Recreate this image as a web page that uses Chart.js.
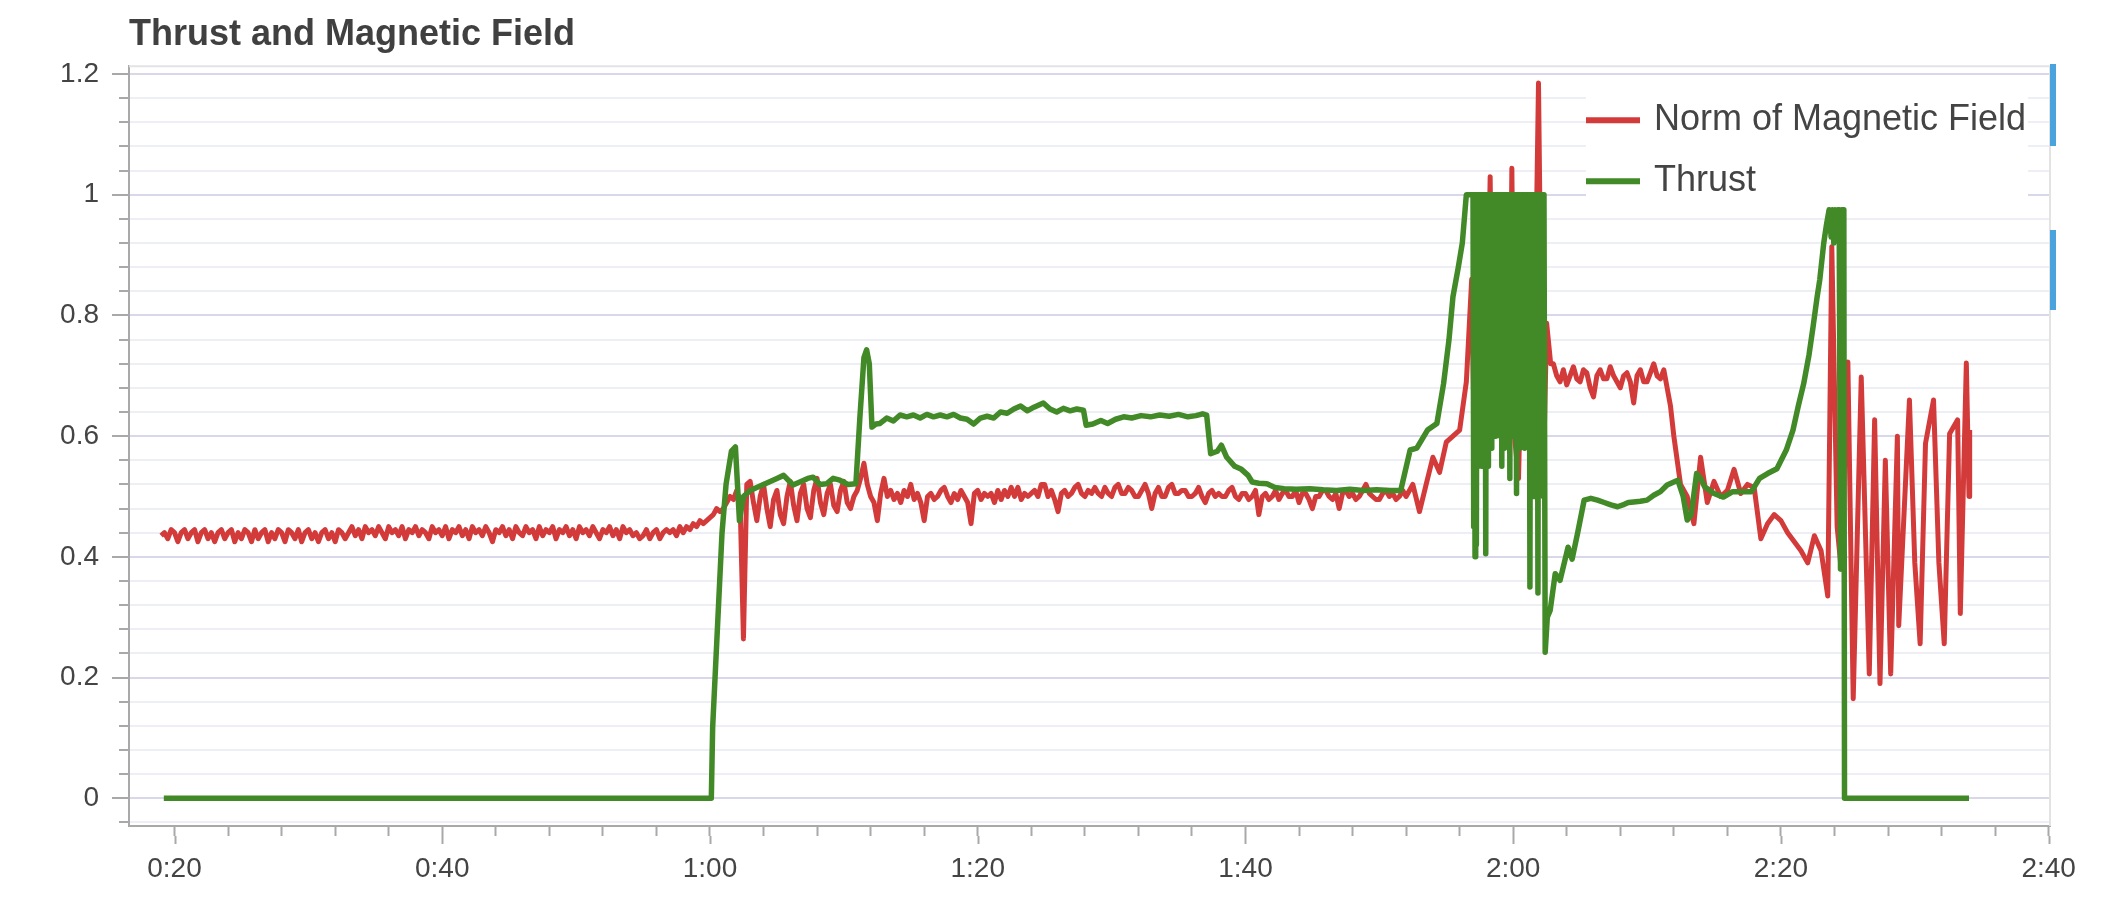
<!DOCTYPE html>
<html>
<head>
<meta charset="utf-8">
<title>Thrust and Magnetic Field</title>
<script src="https://cdn.jsdelivr.net/npm/chart.js@4.4.1/dist/chart.umd.min.js"></script>
<style>
  html, body { margin: 0; padding: 0; background: #fff; }
  #wrap { position: relative; width: 2126px; height: 918px; overflow: hidden; }
  .ui-strip { position: absolute; left: 2050px; width: 6px; background: #4aa3dc; }
</style>
</head>
<body>
<div id="wrap">
  <canvas id="myChart" width="2126" height="918"></canvas>
  <div class="ui-strip" style="top:64px;height:82px"></div>
  <div class="ui-strip" style="top:230px;height:80px"></div>
</div>
<script>
const chartTitle = "Thrust and Magnetic Field";
const seriesNames = ["Norm of Magnetic Field", "Thrust"];

// time in seconds
const magTimes = [
  19, 19.25, 19.5, 19.75, 20, 20.25, 20.5, 20.75,
  21, 21.25, 21.5, 21.75, 22, 22.25, 22.5, 22.75,
  23, 23.25, 23.5, 23.75, 24, 24.25, 24.5, 24.75,
  25, 25.25, 25.5, 25.75, 26, 26.25, 26.5, 26.75,
  27, 27.25, 27.5, 27.75, 28, 28.25, 28.5, 28.75,
  29, 29.25, 29.5, 29.75, 30, 30.25, 30.5, 30.75,
  31, 31.25, 31.5, 31.75, 32, 32.25, 32.5, 32.75,
  33, 33.25, 33.5, 33.75, 34, 34.25, 34.5, 34.75,
  35, 35.25, 35.5, 35.75, 36, 36.25, 36.5, 36.75,
  37, 37.25, 37.5, 37.75, 38, 38.25, 38.5, 38.75,
  39, 39.25, 39.5, 39.75, 40, 40.25, 40.5, 40.75,
  41, 41.25, 41.5, 41.75, 42, 42.25, 42.5, 42.75,
  43, 43.25, 43.5, 43.75, 44, 44.25, 44.5, 44.75,
  45, 45.25, 45.5, 45.75, 46, 46.25, 46.5, 46.75,
  47, 47.25, 47.5, 47.75, 48, 48.25, 48.5, 48.75,
  49, 49.25, 49.5, 49.75, 50, 50.25, 50.5, 50.75,
  51, 51.25, 51.5, 51.75, 52, 52.25, 52.5, 52.75,
  53, 53.25, 53.5, 53.75, 54, 54.25, 54.5, 54.75,
  55, 55.25, 55.5, 55.75, 56, 56.25, 56.5, 56.75,
  57, 57.25, 57.5, 57.75, 58, 58.25, 58.5, 58.75,
  59, 59.25, 59.5, 59.75, 60, 60.25, 60.5, 60.75,
  61, 61.25, 61.5, 61.75, 62, 62.25, 62.5, 62.75,
  63, 63.25, 63.5, 63.75, 64, 64.25, 64.5, 64.75,
  65, 65.25, 65.5, 65.75, 66, 66.25, 66.5, 66.75,
  67, 67.25, 67.5, 67.75, 68, 68.25, 68.5, 68.75,
  69, 69.25, 69.5, 69.75, 70, 70.25, 70.5, 70.75,
  71, 71.25, 71.5, 71.75, 72, 72.25, 72.5, 72.75,
  73, 73.25, 73.5, 73.75, 74, 74.25, 74.5, 74.75,
  75, 75.25, 75.5, 75.75, 76, 76.25, 76.5, 76.75,
  77, 77.25, 77.5, 77.75, 78, 78.25, 78.5, 78.75,
  79, 79.25, 79.5, 79.75, 80, 80.25, 80.5, 80.75,
  81, 81.25, 81.5, 81.75, 82, 82.25, 82.5, 82.75,
  83, 83.25, 83.5, 83.75, 84, 84.25, 84.5, 84.75,
  85, 85.25, 85.5, 85.75, 86, 86.25, 86.5, 86.75,
  87, 87.25, 87.5, 87.75, 88, 88.25, 88.5, 88.75,
  89, 89.25, 89.5, 89.75, 90, 90.25, 90.5, 90.75,
  91, 91.25, 91.5, 91.75, 92, 92.25, 92.5, 92.75,
  93, 93.25, 93.5, 93.75, 94, 94.25, 94.5, 94.75,
  95, 95.25, 95.5, 95.75, 96, 96.25, 96.5, 96.75,
  97, 97.25, 97.5, 97.75, 98, 98.25, 98.5, 98.75,
  99, 99.25, 99.5, 99.75, 100, 100.25, 100.5, 100.75,
  101, 101.25, 101.5, 101.75, 102, 102.25, 102.5, 102.75,
  103, 103.25, 103.5, 103.75, 104, 104.25, 104.5, 104.75,
  105, 105.25, 105.5, 105.75, 106, 106.25, 106.5, 106.75,
  107, 107.25, 107.5, 107.75, 108, 108.25, 108.5, 108.75,
  109, 109.25, 109.5, 109.75, 110, 110.25, 110.5, 110.75,
  111, 111.25, 111.5, 111.75, 112, 112.5, 113, 113.5,
  114, 114.5, 115, 115.5, 116, 116.5, 116.9, 117.1, 117.4, 117.7,
  118, 118.28, 118.45, 118.8, 119.1, 119.4, 119.7, 119.9, 120.1, 120.4,
  120.6, 120.9, 121.2, 121.5, 121.89, 122.1, 122.3, 122.5, 122.8,
  123, 123.25, 123.5, 123.75, 124, 124.25, 124.5, 124.75,
  125, 125.25, 125.5, 125.75, 126, 126.25, 126.5, 126.75,
  127, 127.25, 127.5, 127.75, 128, 128.25, 128.5, 128.75,
  129, 129.25, 129.5, 129.75, 130, 130.25, 130.5, 130.75,
  131, 131.25, 131.5, 131.75, 132, 132.5, 133,
  133.5, 134, 134.5, 135, 135.5, 136, 136.5, 137, 137.5, 138,
  138.5, 139, 139.5, 140, 140.5, 141, 141.5, 142, 142.5, 143,
  143.5, 143.8, 144.2, 144.5, 145, 145.4, 146, 146.6, 147, 147.4,
  147.8, 148.2, 148.7, 148.8, 149.6, 150, 150.4, 150.8, 151.4, 151.8,
  152.2, 152.6, 153.2, 153.4, 153.85, 154.05, 154.1
];
const magValues = [
  0.435, 0.44, 0.43, 0.445, 0.44, 0.425, 0.44, 0.445,
  0.43, 0.44, 0.445, 0.425, 0.44, 0.445, 0.43, 0.44,
  0.425, 0.44, 0.445, 0.43, 0.44, 0.445, 0.425, 0.44,
  0.43, 0.445, 0.44, 0.425, 0.445, 0.43, 0.44, 0.445,
  0.425, 0.44, 0.43, 0.445, 0.44, 0.425, 0.445, 0.44,
  0.43, 0.445, 0.425, 0.44, 0.445, 0.43, 0.44, 0.425,
  0.44, 0.445, 0.43, 0.44, 0.425, 0.445, 0.44, 0.43,
  0.44, 0.45, 0.435, 0.445, 0.43, 0.45, 0.44, 0.445,
  0.435, 0.45, 0.44, 0.43, 0.45, 0.44, 0.445, 0.435,
  0.45, 0.43, 0.445, 0.44, 0.45, 0.435, 0.445, 0.44,
  0.43, 0.45, 0.44, 0.445, 0.435, 0.45, 0.43, 0.445,
  0.44, 0.45, 0.435, 0.445, 0.43, 0.45, 0.44, 0.445,
  0.435, 0.45, 0.44, 0.425, 0.445, 0.44, 0.45, 0.435,
  0.445, 0.43, 0.45, 0.44, 0.435, 0.45, 0.44, 0.445,
  0.43, 0.45, 0.435, 0.445, 0.44, 0.45, 0.43, 0.445,
  0.44, 0.45, 0.435, 0.445, 0.43, 0.45, 0.44, 0.445,
  0.435, 0.45, 0.44, 0.43, 0.445, 0.44, 0.45, 0.435,
  0.445, 0.43, 0.45, 0.44, 0.445, 0.435, 0.44, 0.43,
  0.435, 0.445, 0.43, 0.44, 0.445, 0.43, 0.44, 0.445,
  0.44, 0.445, 0.435, 0.45, 0.44, 0.45, 0.445, 0.455,
  0.45, 0.46, 0.455, 0.46, 0.465, 0.47, 0.48, 0.475,
  0.48, 0.49, 0.5, 0.495, 0.51, 0.49, 0.264, 0.52,
  0.525, 0.49, 0.46, 0.5, 0.52, 0.48, 0.45, 0.495,
  0.51, 0.47, 0.455, 0.5, 0.525, 0.485, 0.46, 0.505,
  0.52, 0.48, 0.465, 0.51, 0.53, 0.49, 0.47, 0.505,
  0.52, 0.485, 0.475, 0.51, 0.525, 0.49, 0.48, 0.5,
  0.51, 0.53, 0.555, 0.52, 0.5, 0.49, 0.46, 0.505,
  0.53, 0.5, 0.51, 0.495, 0.505, 0.49, 0.51, 0.5,
  0.52, 0.495, 0.505, 0.49, 0.46, 0.5, 0.505, 0.495,
  0.5, 0.51, 0.515, 0.5, 0.49, 0.505, 0.495, 0.51,
  0.5, 0.49, 0.455, 0.505, 0.51, 0.495, 0.505, 0.5,
  0.505, 0.49, 0.51, 0.495, 0.51, 0.5, 0.515, 0.5,
  0.515, 0.495, 0.505, 0.5, 0.505, 0.51, 0.5, 0.52,
  0.52, 0.5, 0.51, 0.495, 0.475, 0.505, 0.51, 0.5,
  0.505, 0.515, 0.52, 0.505, 0.5, 0.51, 0.505, 0.515,
  0.505, 0.5, 0.515, 0.505, 0.5, 0.515, 0.52, 0.505,
  0.505, 0.515, 0.51, 0.5, 0.5, 0.51, 0.52, 0.505,
  0.48, 0.505, 0.515, 0.5, 0.5, 0.515, 0.52, 0.505,
  0.505, 0.51, 0.51, 0.5, 0.5, 0.505, 0.515, 0.5,
  0.49, 0.505, 0.51, 0.5, 0.505, 0.5, 0.5, 0.51,
  0.515, 0.5, 0.495, 0.505, 0.505, 0.495, 0.5, 0.51,
  0.47, 0.5, 0.505, 0.495, 0.5, 0.51, 0.495, 0.505,
  0.51, 0.5, 0.5, 0.51, 0.49, 0.505, 0.505, 0.495,
  0.48, 0.5, 0.5, 0.51, 0.51, 0.5, 0.495, 0.505,
  0.48, 0.505, 0.51, 0.5, 0.505, 0.495, 0.5, 0.51,
  0.52, 0.505, 0.5, 0.495, 0.495, 0.505, 0.51, 0.5,
  0.505, 0.495, 0.5, 0.51, 0.5, 0.52, 0.475, 0.52,
  0.565, 0.54, 0.59, 0.6, 0.61, 0.69, 0.86, 0.58, 0.62, 0.6,
  0.66, 1.03, 0.66, 0.743, 0.6, 0.64, 0.58, 1.044, 0.6, 0.53,
  0.72, 0.735, 0.62, 0.6, 1.185, 0.77, 0.58, 0.787, 0.72,
  0.72, 0.7, 0.69, 0.71, 0.685, 0.7, 0.715, 0.695,
  0.69, 0.71, 0.705, 0.68, 0.665, 0.7, 0.71, 0.695,
  0.695, 0.715, 0.7, 0.69, 0.68, 0.7, 0.705, 0.69,
  0.655, 0.7, 0.71, 0.69, 0.69, 0.705, 0.72, 0.7,
  0.695, 0.71, 0.68, 0.65, 0.6, 0.52, 0.5,
  0.455, 0.565, 0.49, 0.525, 0.5, 0.51, 0.545, 0.505, 0.52, 0.515,
  0.43, 0.455, 0.47, 0.46, 0.44, 0.425, 0.41, 0.39, 0.435, 0.41,
  0.335, 0.914, 0.45, 0.38, 0.723, 0.165, 0.698, 0.206, 0.627, 0.19,
  0.56, 0.206, 0.6, 0.286, 0.66, 0.39, 0.256, 0.588, 0.66, 0.39,
  0.256, 0.604, 0.627, 0.306, 0.721, 0.5, 0.61
];

const thrustTimes = [
  19.2, 60.1, 60.2, 60.9, 61.2, 61.6, 61.9, 62.2, 62.5, 63,
  63.5, 64, 64.5, 65, 65.5, 66.2, 66.8, 67.3, 67.7, 68.2,
  68.7, 69.2, 69.7, 70.3, 70.9, 71.2, 71.5, 71.7, 71.9, 72.1,
  72.4, 72.7, 73.2, 73.7, 74.2, 74.7, 75.2, 75.7, 76.2, 76.7,
  77.2, 77.7, 78.2, 78.7, 79.2, 79.7, 80.2, 80.7, 81.2, 81.7,
  82.2, 82.7, 83.2, 83.7, 84.2, 84.9, 85.4, 85.9, 86.4, 86.9,
  87.4, 87.9, 88.1, 88.6, 89.2, 89.7, 90.3, 90.9, 91.5, 92.2,
  92.9, 93.6, 94.3, 95, 95.7, 96.3, 96.8, 97.1, 97.4, 97.9,
  98.2, 98.6, 99.2, 99.7, 100.2, 100.5, 101, 101.6, 102.2, 102.9,
  103.8, 104.8, 105.8, 106.8, 107.8, 108.8, 109.8, 110.8, 111.6, 112.3,
  112.8, 113.6, 114.3, 114.8, 115.2, 115.5, 115.9, 116.2, 116.5,
  117, 117.05, 117.1, 117.15, 117.2, 117.25, 117.3, 117.35, 117.4, 117.45,
  117.5, 117.55, 117.6, 117.65, 117.7, 117.75, 117.8, 117.85, 117.9, 117.95,
  118, 118.05, 118.1, 118.15, 118.2, 118.25, 118.3, 118.35, 118.4, 118.45,
  118.5, 118.55, 118.6, 118.65, 118.7, 118.75, 118.8, 118.85, 118.9, 118.95,
  119, 119.05, 119.1, 119.15, 119.2, 119.25, 119.3, 119.35, 119.4, 119.45,
  119.5, 119.55, 119.6, 119.65, 119.7, 119.75, 119.8, 119.85, 119.9, 119.95,
  120, 120.05, 120.1, 120.15, 120.2, 120.25, 120.3, 120.35, 120.4, 120.45,
  120.5, 120.55, 120.6, 120.65, 120.7, 120.75, 120.8, 120.85, 120.9, 120.95,
  121, 121.05, 121.1, 121.15, 121.2, 121.25, 121.3, 121.35, 121.4, 121.45,
  121.5, 121.55, 121.6, 121.65, 121.7, 121.75, 121.8, 121.85, 121.9, 121.95,
  122, 122.05, 122.1, 122.15, 122.2, 122.25, 122.3, 122.39, 122.55, 122.76,
  123.14, 123.5,
  124.1, 124.4, 124.8, 125.3, 125.8, 126.3, 126.8, 127.3, 127.8, 128.3,
  128.6, 129, 129.5, 130, 130.5, 131, 131.5, 132, 132.3, 132.7,
  133, 133.3, 133.7, 134, 134.3, 135, 135.7, 136.4, 137.1, 137.8,
  138.4, 139, 139.7, 140.4, 140.9, 141.3, 141.7, 142.1, 142.4, 142.7,
  142.9, 143.2, 143.4, 143.6, 143.75, 143.85, 143.95, 144.05, 144.15, 144.25,
  144.35, 144.45, 144.55, 144.7, 144.75, 154.05
];
const thrustValues = [
  0, 0, 0.118, 0.44, 0.52, 0.575, 0.582, 0.46, 0.5, 0.51,
  0.515, 0.52, 0.525, 0.53, 0.535, 0.519, 0.525, 0.53, 0.532, 0.52,
  0.521, 0.53, 0.527, 0.52, 0.521, 0.632, 0.73, 0.743, 0.72, 0.615,
  0.62, 0.621, 0.63, 0.625, 0.635, 0.632, 0.635, 0.63, 0.636, 0.632,
  0.635, 0.632, 0.636, 0.63, 0.628, 0.62, 0.63, 0.633, 0.63, 0.64,
  0.638, 0.645, 0.65, 0.642, 0.648, 0.655, 0.645, 0.64, 0.646, 0.642,
  0.645, 0.643, 0.618, 0.62, 0.626, 0.621, 0.628, 0.632, 0.63, 0.634,
  0.632, 0.635, 0.633, 0.636, 0.632, 0.634, 0.637, 0.635, 0.571, 0.575,
  0.585, 0.565, 0.55, 0.545, 0.535, 0.524, 0.522, 0.521, 0.515, 0.513,
  0.512, 0.513, 0.511, 0.51, 0.512, 0.51, 0.511, 0.51, 0.51, 0.577,
  0.58, 0.61, 0.621, 0.687, 0.759, 0.831, 0.88, 0.92, 1,
  1, 0.45, 1, 0.4, 1, 0.42, 1, 0.55, 1, 0.6,
  1, 0.6, 1, 0.55, 1, 0.6, 1, 0.58, 1, 0.405,
  1, 0.62, 1, 0.55, 1, 0.6, 1, 0.58, 1, 0.62,
  1, 0.6, 1, 0.6, 1, 0.88, 1, 0.88, 1, 0.88,
  1, 0.6, 1, 0.55, 1, 0.62, 1, 0.58, 1, 0.6,
  1, 0.62, 1, 0.6, 1, 0.53, 1, 0.62, 1, 0.6,
  1, 0.62, 1, 0.6, 1, 0.505, 1, 0.62, 1, 0.58,
  1, 0.6, 1, 0.62, 1, 0.6, 1, 0.58, 1, 0.6,
  1, 0.62, 1, 0.6, 1, 0.35, 1, 0.58, 1, 0.6,
  1, 0.5, 1, 0.62, 1, 0.6, 1, 0.34, 1, 0.6,
  1, 0.55, 1, 0.62, 1, 0.5, 1, 0.242, 0.3, 0.311,
  0.372, 0.361,
  0.416, 0.396, 0.438, 0.494, 0.497, 0.494, 0.49, 0.486, 0.483, 0.487,
  0.49, 0.491, 0.492, 0.494, 0.502, 0.508, 0.519, 0.524, 0.527, 0.5,
  0.461, 0.47, 0.538, 0.53, 0.516, 0.505, 0.499, 0.508, 0.508, 0.508,
  0.53, 0.538, 0.546, 0.577, 0.61, 0.65, 0.687, 0.735, 0.781, 0.83,
  0.859, 0.92, 0.95, 0.975, 0.93, 0.975, 0.92, 0.975, 0.93, 0.975,
  0.975, 0.38, 0.975, 0.975, 0, 0
];

const fontFamily = "'Liberation Sans', Arial, Helvetica, sans-serif";
const textColor = "#444";
const lineColors = ["#d33b3b", "#418a27"];
const axisColor = "#a9a9a9";

Chart.defaults.font.family = fontFamily;

const formatTime = (s) => Math.floor(s / 60) + ":" + String(Math.round(s % 60)).padStart(2, "0");
const isMajorY = (v) => Math.abs(v * 5 - Math.round(v * 5)) < 1e-6;
const isMajorX = (v) => Math.abs(v % 20) < 1e-6;

// top and right frame of the plot
const frame = {
  id: "frame",
  beforeDatasetsDraw(chart) {
    const { ctx, chartArea } = chart;
    ctx.save();
    ctx.strokeStyle = "#e3e3e3";
    ctx.lineWidth = 2;
    ctx.beginPath();
    ctx.moveTo(chartArea.left, chartArea.top);
    ctx.lineTo(chartArea.right, chartArea.top);
    ctx.lineTo(chartArea.right, chartArea.bottom);
    ctx.stroke();
    ctx.restore();
  },
};

// longer tick marks on labelled ticks
const majorTicks = {
  id: "majorTicks",
  afterDraw(chart) {
    const { ctx } = chart;
    const xs = chart.scales.x;
    const ys = chart.scales.y;
    ctx.save();
    ctx.strokeStyle = axisColor;
    ctx.lineWidth = 2;
    ctx.beginPath();
    xs.ticks.forEach((t) => {
      if (!isMajorX(t.value)) return;
      const px = Math.round(xs.getPixelForValue(t.value)) + 0.5;
      ctx.moveTo(px, xs.top + 10);
      ctx.lineTo(px, xs.top + 18);
    });
    ys.ticks.forEach((t) => {
      if (!isMajorY(t.value)) return;
      const py = Math.round(ys.getPixelForValue(t.value));
      ctx.moveTo(ys.right - 10, py);
      ctx.lineTo(ys.right - 17, py);
    });
    ctx.stroke();
    ctx.restore();
  },
};

// legend box inside the plot, top right
const legendBox = {
  id: "legendBox",
  beforeDatasetsDraw(chart) {
    const { ctx, chartArea } = chart;
    const right = chartArea.right - 22;
    const left = right - 442;
    const top = chartArea.top + 22;
    ctx.save();
    ctx.fillStyle = "#fff";
    ctx.fillRect(left, top, right - left, 114);
    ctx.font = "36px " + fontFamily;
    ctx.textBaseline = "middle";
    ctx.textAlign = "left";
    chart.data.datasets.forEach((ds, i) => {
      const y = top + 32 + i * 61;
      ctx.strokeStyle = ds.borderColor;
      ctx.lineWidth = 6;
      ctx.beginPath();
      ctx.moveTo(left, y);
      ctx.lineTo(left + 54, y);
      ctx.stroke();
      ctx.fillStyle = textColor;
      ctx.fillText(ds.label, left + 68, y);
    });
    ctx.restore();
  },
};

const ctx = document.getElementById("myChart").getContext("2d");
const myChart = new Chart(ctx, {
  type: "line",
  data: {
    datasets: [
      {
        label: seriesNames[0],
        data: magTimes.map((t, i) => ({ x: t, y: magValues[i] })),
        borderColor: lineColors[0],
        backgroundColor: lineColors[0],
        borderWidth: 5,
        borderJoinStyle: "round",
        pointRadius: 0,
        tension: 0,
        order: 2,
      },
      {
        label: seriesNames[1],
        data: thrustTimes.map((t, i) => ({ x: t, y: thrustValues[i] })),
        borderColor: lineColors[1],
        backgroundColor: lineColors[1],
        borderWidth: 5.5,
        borderJoinStyle: "round",
        pointRadius: 0,
        tension: 0,
        order: 1,
      },
    ],
  },
  options: {
    responsive: false,
    animation: false,
    events: [],
    layout: { padding: { left: 0, right: 76, top: 0, bottom: 0 } },
    plugins: {
      legend: { display: false },
      tooltip: { enabled: false },
      title: {
        display: true,
        text: chartTitle,
        align: "start",
        fullSize: false,
        color: "#404040",
        font: { size: 36, weight: "bold" },
        padding: { top: 13, bottom: 10 },
      },
    },
    scales: {
      x: {
        type: "linear",
        min: 16.6,
        max: 160.1,
        afterFit: (scale) => { scale.height = 92; },
        border: { display: true, color: axisColor, width: 2 },
        grid: { drawOnChartArea: false, drawTicks: true, tickLength: 10, tickColor: axisColor, tickWidth: 2 },
        ticks: {
          stepSize: 4,
          includeBounds: false,
          autoSkip: false,
          maxRotation: 0,
          minRotation: 0,
          padding: 16,
          color: textColor,
          font: { size: 28 },
          callback: (v) => (isMajorX(v) ? formatTime(v) : ""),
        },
      },
      y: {
        type: "linear",
        min: -0.046,
        max: 1.213,
        afterFit: (scale) => { scale.width = 129; },
        border: { display: true, color: axisColor, width: 2 },
        grid: {
          color: (c) => (c.tick && isMajorY(c.tick.value) ? "#d8d8ea" : "#eeeef5"),
          lineWidth: 2,
          tickLength: 10,
          tickColor: axisColor,
          tickWidth: 2,
        },
        ticks: {
          stepSize: 0.04,
          includeBounds: false,
          autoSkip: false,
          padding: 20,
          color: textColor,
          font: { size: 28 },
          callback: (v) => (isMajorY(v) ? String(Math.round(v * 10) / 10) : ""),
        },
      },
    },
  },
  plugins: [frame, legendBox, majorTicks],
});
</script>
</body>
</html>
